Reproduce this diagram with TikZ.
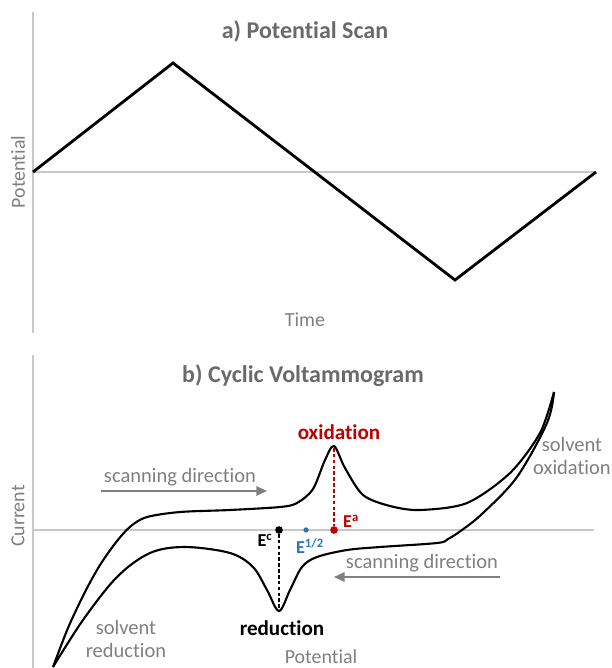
\documentclass[tikz,border=0pt]{standalone}
\usepackage{fontspec}
\setmainfont{Carlito}[Ligatures=NoCommon]
\usepackage{tikz}
\usetikzlibrary{
    arrows.meta,
    positioning
}
\definecolor{axisgray}{HTML}{C8C8C8}
\definecolor{labelgray}{HTML}{7F7F7F}
\definecolor{titlegray}{HTML}{6A6A6A}
\definecolor{oxred}{HTML}{C00000}
\definecolor{halfblue}{HTML}{2E75B6}
\tikzset{
    axisline/.style={draw=axisgray, line width=1pt},
    wave/.style={line width=2.4pt, line join=miter},
    trace/.style={line width=1.8pt},
    plottitle/.style={text=titlegray, font=\fontsize{20.5}{23}\selectfont\bfseries, inner sep=0pt},
    axislabel/.style={text=labelgray, font=\fontsize{17}{19}\selectfont, inner sep=0pt},
    note/.style={text=labelgray, font=\fontsize{17.5}{19.6}\selectfont, inner sep=0pt, align=center},
    scanarrow/.style={draw=labelgray, line width=1.3pt, -{Triangle[length=9pt,width=8pt]}},
    peaklabel/.style={font=\fontsize{18}{20}\selectfont\bfseries, inner sep=0pt},
    elabel/.style={font=\fontsize{15.5}{17}\selectfont\bfseries, inner sep=0pt},
    potdot/.style={circle, fill, inner sep=0pt, minimum size=6.5pt},
    dropline/.style={line width=1.1pt, dash pattern=on 3pt off 2pt}
}

\begin{document}
\begin{tikzpicture}[x=0.03cm, y=-0.03cm]
                        \useasboundingbox (0, 0) rectangle (611, 668);
                        \begin{scope}[shift={(0, 0)}]
                            \coordinate (atop) at (33, 12);
                            \coordinate (abot) at (33, 333);
                            \coordinate (aorig) at (33, 172);
                            \coordinate (aright) at (596, 172);
                            \coordinate (wtop) at (173, 63);
                            \coordinate (wlow) at (455, 280);
                            \draw[axisline] (atop) -- (abot) (aorig) -- (aright);
                            \draw[wave] (aorig) -- (wtop) -- (wlow) -- (aright);
                            \node[plottitle] (atitle) at (305, 31) {a) Potential Scan};
                            \node[axislabel] (atime) at (305, 320) {Time};
                            \node[axislabel, rotate=90] (apot) at (18, 172) {Potential};
                        \end{scope}
                        \begin{scope}[shift={(0, 0)}]
                            \coordinate (btop) at (33, 355);
                            \coordinate (bbot) at (33, 668);
                            \coordinate (borig) at (33, 530);
                            \coordinate (bright) at (594, 530);
                            \draw[axisline] (btop) -- (bbot) (borig) -- (bright);
                            \node[plottitle] (btitle) at (303, 376) {b) Cyclic Voltammogram};
                            \node[axislabel, rotate=90] (bcur) at (18, 516) {Current};
                            \node[axislabel, anchor=base] (bpot) at (321, 663) {Potential};
                            \draw[trace] plot[smooth, tension=0.5] coordinates {
                                (53, 667) (68, 628) (85, 592) (100, 565) (117, 541) (131, 526)
                                (147, 517) (180, 512) (230, 510) (280, 507) (297, 503)
                                (313, 489) (325, 460) (334, 446) (345, 468) (363, 495)
                                (390, 506) (420, 510) (467, 503) (510, 473) (540, 433) (554, 392)};
                            \draw[trace] plot[smooth, tension=0.55] coordinates {
                                (554, 392) (547, 423) (517, 477) (483, 513) (462, 530)
                                (448, 539) (437, 543) (380, 547) (347, 550) (317, 557)
                                (302, 567) (290, 590) (279, 611) (267, 590) (253, 567)
                                (230, 553) (185, 547) (150, 553) (117, 577) (83, 620) (53, 667)};
                            \coordinate (oxpeak) at (334, 448);
                            \coordinate (redpeak) at (279, 610);
                            \node[potdot, oxred] (ea) at (334, 530) {};
                            \node[potdot, black] (ec) at (279, 530) {};
                            \node[potdot, halfblue, minimum size=4.5pt] (ehalf) at (306, 530) {};
                            \draw[dropline, oxred] (oxpeak) -- (ea);
                            \draw[dropline, black] (ec) -- (redpeak);
                            \node[elabel, text=oxred] (ealabel) at (351, 521) {E\textsuperscript{a}};
                            \node[elabel, text=black] (eclabel) at (265, 540) {E\textsuperscript{c}};
                            \node[elabel, text=halfblue] (ehlabel) at (310, 546) {E\textsuperscript{1/2}};
                            \node[peaklabel, text=oxred] (oxlabel) at (339, 432) {oxidation};
                            \node[peaklabel, text=black] (redlabel) at (282, 628) {reduction};
                            \node[note] (solvox) at (572, 456) {solvent\\oxidation};
                            \node[note] (solvred) at (126, 639) {solvent\\reduction};
                            \coordinate (upstart) at (101, 491);
                            \coordinate (upend) at (267, 491);
                            \coordinate (lowstart) at (500, 577);
                            \coordinate (lowend) at (334, 577);
                            \draw[scanarrow] (upstart) -- (upend);
                            \draw[scanarrow] (lowstart) -- (lowend);
                            \node[note] (uplabel) at (180, 477) {scanning direction};
                            \node[note] (lowlabel) at (422, 563) {scanning direction};
                        \end{scope}
                    \end{tikzpicture}
\end{document}
